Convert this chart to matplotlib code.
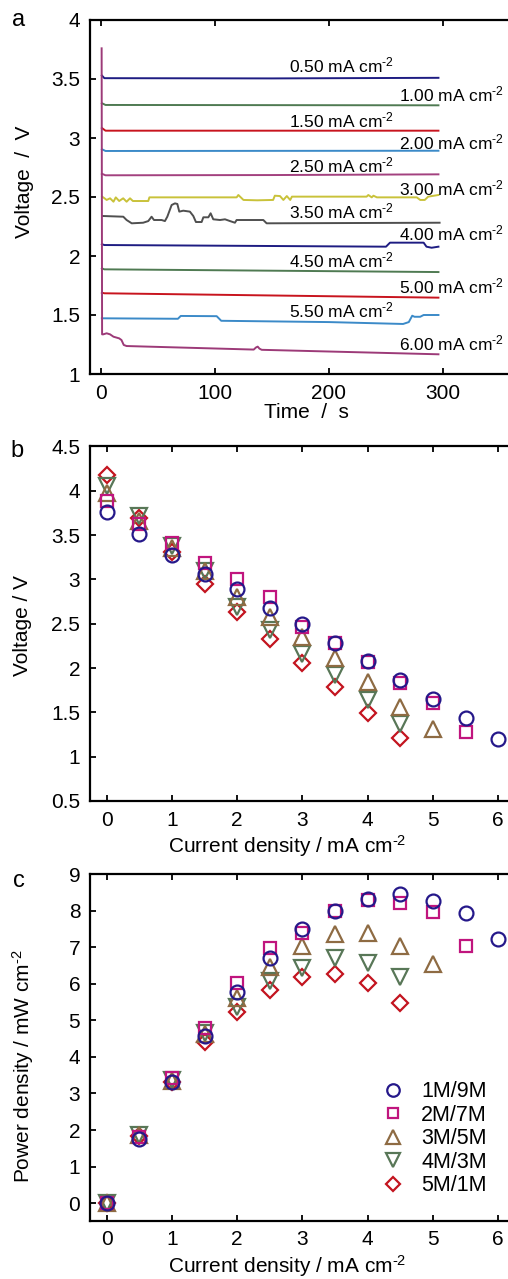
import matplotlib
matplotlib.use('Agg')
import matplotlib.pyplot as plt
from matplotlib.ticker import FuncFormatter, FixedLocator

plt.rcParams['font.family'] = ['Liberation Sans', 'DejaVu Sans']
plt.rcParams['mathtext.fontset'] = 'custom'
plt.rcParams['mathtext.rm'] = 'Liberation Sans'
plt.rcParams['mathtext.it'] = 'Liberation Sans:italic'
plt.rcParams['mathtext.bf'] = 'Liberation Sans:bold'

# ---------------- data: panel a (chronopotentiometry) ----------------
currents_a = [0.50, 1.00, 1.50, 2.00, 2.50, 3.00, 3.50, 4.00, 4.50, 5.00, 5.50, 6.00]

t_050 = [0.8, 3, 150, 296]
v_050 = [3.53, 3.507, 3.505, 3.51]
t_100 = [0.8, 4, 296]
v_100 = [3.295, 3.28, 3.277]
t_150 = [0.8, 4, 296]
v_150 = [3.085, 3.062, 3.062]
t_200 = [0.8, 4, 296]
v_200 = [2.905, 2.89, 2.892]
t_250 = [0.8, 4, 150, 296]
v_250 = [2.697, 2.684, 2.686, 2.692]
t_300 = [1, 3, 5, 8, 11, 13, 16, 19.5, 22.5, 25.5, 28, 41.5, 42.5, 119, 120.5, 125,
         137, 151, 152.5, 157, 160, 163, 166, 167.5, 172, 233, 234.5, 237.5, 239, 242,
         277, 280, 284, 287, 296]
v_300 = [2.503, 2.49, 2.475, 2.489, 2.46, 2.497, 2.466, 2.489, 2.46, 2.489, 2.466, 2.466,
         2.497, 2.497, 2.517, 2.475, 2.472, 2.475, 2.511, 2.508, 2.475, 2.508, 2.475, 2.503,
         2.503, 2.503, 2.517, 2.497, 2.511, 2.497, 2.497, 2.475, 2.475, 2.503, 2.517]
t_350 = [1.5, 19.6, 22.5, 27, 37, 41.5, 44.4, 46.5, 50.3, 53.2, 56.1, 58.2, 62, 64.9, 67,
         68.7, 72.2, 78, 81, 83.3, 88.3, 89.8, 94.2, 96.2, 98.5, 104.4, 108.8, 113.2,
         117.5, 119, 138, 142.4, 145.3, 297]
v_350 = [2.339, 2.333, 2.305, 2.277, 2.282, 2.296, 2.333, 2.305, 2.305, 2.305, 2.296, 2.333,
         2.432, 2.446, 2.441, 2.376, 2.384, 2.376, 2.339, 2.288, 2.288, 2.328, 2.328, 2.362,
         2.311, 2.305, 2.311, 2.296, 2.282, 2.305, 2.305, 2.305, 2.277, 2.282]
t_400 = [0.8, 3, 250, 253.5, 283, 285.5, 290, 296]
v_400 = [2.10, 2.093, 2.079, 2.113, 2.113, 2.079, 2.07, 2.079]
t_450 = [0.8, 3, 296]
v_450 = [1.895, 1.887, 1.864]
t_500 = [0.8, 3, 296]
v_500 = [1.689, 1.684, 1.647]
t_550 = [0.8, 67.5, 70, 101.5, 105.5, 200, 265, 270, 273, 275, 280, 283, 296]
v_550 = [1.472, 1.468, 1.492, 1.49, 1.451, 1.44, 1.424, 1.44, 1.494, 1.485, 1.485, 1.50, 1.50]
t_600 = [0.6, 1.0, 2, 5, 8, 11, 16, 18, 20, 22.5, 134, 136, 137.5, 139, 141, 296]
v_600 = [3.76, 1.336, 1.336, 1.345, 1.336, 1.316, 1.302, 1.288, 1.246, 1.237, 1.207, 1.225,
         1.232, 1.215, 1.205, 1.167]

times_a = [t_050, t_100, t_150, t_200, t_250, t_300, t_350, t_400, t_450, t_500, t_550, t_600]
volts_a = [v_050, v_100, v_150, v_200, v_250, v_300, v_350, v_400, v_450, v_500, v_550, v_600]

# ---------------- data: panels b and c ----------------
cur = [0, 0.5, 1, 1.5, 2, 2.5, 3, 3.5, 4, 4.5, 5, 5.5, 6]
series = ['1M/9M', '2M/7M', '3M/5M', '4M/3M', '5M/1M']

volt_1M9M = [3.76, 3.51, 3.27, 3.06, 2.89, 2.68, 2.50, 2.28, 2.08, 1.87, 1.65, 1.44, 1.20]
volt_2M7M = [3.88, 3.63, 3.41, 3.19, 3.00, 2.80, 2.46, 2.28, 2.07, 1.83, 1.60, 1.28]
volt_3M5M = [3.97, 3.66, 3.35, 3.09, 2.80, 2.58, 2.35, 2.11, 1.84, 1.56, 1.31]
volt_4M3M = [4.05, 3.72, 3.38, 3.10, 2.69, 2.43, 2.16, 1.92, 1.64, 1.37]
volt_5M1M = [4.18, 3.69, 3.31, 2.95, 2.63, 2.33, 2.06, 1.79, 1.49, 1.21]

pow_1M9M = [0.0, 1.75, 3.30, 4.57, 5.76, 6.71, 7.49, 7.99, 8.33, 8.45, 8.27, 7.92, 7.21]
pow_2M7M = [0.0, 1.82, 3.41, 4.80, 6.02, 6.98, 7.38, 7.99, 8.29, 8.20, 7.97, 7.04]
pow_3M5M = [0.0, 1.85, 3.35, 4.62, 5.60, 6.47, 7.04, 7.37, 7.39, 7.02, 6.55]
pow_4M3M = [0.0, 1.85, 3.38, 4.65, 5.37, 6.07, 6.44, 6.69, 6.56, 6.17]
pow_5M1M = [0.0, 1.84, 3.31, 4.40, 5.24, 5.83, 6.19, 6.27, 6.01, 5.48]

volts_b = [volt_1M9M, volt_2M7M, volt_3M5M, volt_4M3M, volt_5M1M]
pows_c = [pow_1M9M, pow_2M7M, pow_3M5M, pow_4M3M, pow_5M1M]

# ---------------- styles ----------------
line_colors = ['#1e1c82', '#4f7a52', '#c8141e', '#3b8ac8', '#a3417f', '#c9c23a',
               '#4f4f4f', '#1e1c82', '#4f7a52', '#c8141e', '#3b8ac8', '#9c3a78']
label_t = [165, 261]
label_v = [3.613, 3.37, 3.147, 2.96, 2.765, 2.574, 2.375, 2.19, 1.966, 1.746, 1.542, 1.26]

mk_colors = ['#25188a', '#c0157e', '#8e6b43', '#587757', '#c3141f']
mk_shapes = ['o', 's', '^', 'v', 'D']
mk_sizes = [10, 8, 11.5, 11.5, 8]

W, H = 508, 1279
fig = plt.figure(figsize=(W / 100, H / 100), dpi=100)


def rect(left, top, right, bottom):
    return [left / W, 1 - bottom / H, (right - left) / W, (bottom - top) / H]


def px(x, y):
    return x / W, 1 - y / H


TICK_FS = 15
LABEL_FS = 15
SUP = r'$^{\text{-2}}$'
fmt = FuncFormatter(lambda v, p: '%g' % v)


def style_axes(ax):
    for s in ['left', 'bottom', 'top']:
        ax.spines[s].set_linewidth(1.6)
    ax.spines['right'].set_visible(False)
    ax.tick_params(direction='in', length=4, width=1.3, top=True, right=False,
                   labelsize=TICK_FS, pad=7)
    ax.xaxis.set_major_formatter(fmt)
    ax.yaxis.set_major_formatter(fmt)


# ---------------- panel a ----------------
axa = fig.add_axes(rect(90, 20, 508, 374))
for i, (tt, vv) in enumerate(zip(times_a, volts_a)):
    axa.plot(tt, vv, color=line_colors[i], lw=1.4, zorder=3 + (5 if i == 11 else 0))
    axa.text(label_t[i % 2], label_v[i], '%.2f mA cm' % currents_a[i] + SUP,
             fontsize=12.5, ha='left', va='center', zorder=10)
axa.set_xlim(-9.6, 357)
axa.set_ylim(1, 4)
axa.xaxis.set_major_locator(FixedLocator([0, 100, 200, 300]))
axa.yaxis.set_major_locator(FixedLocator([1, 1.5, 2, 2.5, 3, 3.5, 4]))
style_axes(axa)
fig.text(*px(306, 412), 'Time  /  s', fontsize=LABEL_FS, ha='center', va='center')
fig.text(*px(24, 182), 'Voltage  /  V', fontsize=LABEL_FS, ha='center', va='center',
         rotation=90)
fig.text(*px(19, 20), 'a', fontsize=17, ha='center', va='center')

# ---------------- panel b ----------------
axb = fig.add_axes(rect(90, 446.4, 508, 801))
for k in range(4, -1, -1):
    vals = volts_b[k]
    axb.plot(cur[:len(vals)], vals, ls='none', marker=mk_shapes[k], ms=mk_sizes[k],
             mfc='none', mec=mk_colors[k], mew=1.6, zorder=3 + (4 - k))
axb.set_xlim(-0.256, 6.15)
axb.set_ylim(0.5, 4.5)
axb.xaxis.set_major_locator(FixedLocator([0, 1, 2, 3, 4, 5, 6]))
axb.yaxis.set_major_locator(FixedLocator([0.5, 1, 1.5, 2, 2.5, 3, 3.5, 4, 4.5]))
style_axes(axb)
fig.text(*px(287.5, 846), 'Current density / mA cm' + SUP, fontsize=LABEL_FS,
         ha='center', va='center')
fig.text(*px(23, 626), 'Voltage / V', fontsize=LABEL_FS, ha='center', va='center',
         rotation=90)
fig.text(*px(17, 451), 'b', fontsize=17, ha='center', va='center')

# ---------------- panel c ----------------
axc = fig.add_axes(rect(90, 874, 508, 1220.7))
handles = [None] * 5
for k in range(4, -1, -1):
    vals = pows_c[k]
    h, = axc.plot(cur[:len(vals)], vals, ls='none', marker=mk_shapes[k], ms=mk_sizes[k],
                  mfc='none', mec=mk_colors[k], mew=1.6, zorder=3 + (4 - k),
                  label=series[k])
    handles[k] = h
axc.set_xlim(-0.256, 6.15)
axc.set_ylim(-0.48, 9)
axc.xaxis.set_major_locator(FixedLocator([0, 1, 2, 3, 4, 5, 6]))
axc.yaxis.set_major_locator(FixedLocator(list(range(10))))
style_axes(axc)
axc.legend(handles=handles, labels=series, frameon=False, fontsize=15.5,
           loc='lower right', bbox_to_anchor=(0.97, 0.045), labelspacing=0.12,
           handletextpad=0.8, handlelength=1.0, borderaxespad=0, markerscale=0.9)
fig.text(*px(287.5, 1266), 'Current density / mA cm' + SUP, fontsize=LABEL_FS,
         ha='center', va='center')
fig.text(*px(23, 1066), 'Power density / mW cm' + SUP, fontsize=LABEL_FS,
         ha='center', va='center', rotation=90)
fig.text(*px(19, 881), 'c', fontsize=17, ha='center', va='center')

fig.savefig('out.png', dpi=100)
